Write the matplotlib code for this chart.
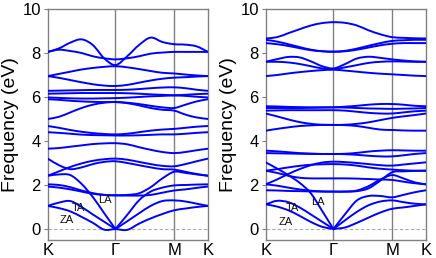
import matplotlib
matplotlib.use("Agg")
import matplotlib.pyplot as plt
import numpy as np
from matplotlib.path import Path
from matplotlib.patches import PathPatch

plt.rcParams["font.family"] = ["Liberation Sans", "DejaVu Sans"]

# k-path K-G-M-K of the hexagonal zone (lengths in 1/a) and sampling steps
seg_len = [4.1888, 3.6276, 2.0944]
seg_steps = [6, 5, 3]
tick_labels = ["K", "Γ", "M", "K"]
mode_names = ["ZA", "TA", "LA"]

# ---- left structure: energies (eV) at the 15 sampled k-points ----
za_left = [1.05, 0.95, 0.8, 0.55, 0.28, -0.03, 0.0, -0.04, 0.24, 0.48, 0.68, 0.85, 0.93, 1.0, 1.05]
ta_left = [1.05, 1.2, 1.27, 1.0, 0.66, 0.33, 0.0, 0.35, 0.71, 1.05, 1.27, 1.3, 1.25, 1.15, 1.05]
la_left = [2.42, 2.48, 2.45, 2.05, 1.45, 0.72, 0.0, 0.64, 1.3, 1.7, 1.88, 1.98, 2.0, 2.02, 2.03]
opt1_left = [2.03, 2.0, 1.9, 1.75, 1.63, 1.55, 1.53, 1.55, 1.62, 1.9, 2.3, 2.6, 2.55, 2.48, 2.42]
opt2_left = [1.93, 1.88, 1.8, 1.7, 1.6, 1.55, 1.53, 1.52, 1.52, 1.55, 1.65, 1.75, 1.8, 1.87, 1.93]
b6_left = [3.2, 2.9, 2.72, 2.8, 2.95, 3.05, 3.08, 3.0, 2.9, 2.8, 2.72, 2.7, 2.6, 2.5, 2.42]
b7_left = [2.42, 2.62, 2.82, 2.98, 3.1, 3.17, 3.2, 3.15, 3.05, 2.95, 2.87, 2.85, 2.95, 3.08, 3.2]
b8_left = [3.65, 3.68, 3.74, 3.8, 3.86, 3.89, 3.9, 3.85, 3.72, 3.6, 3.5, 3.45, 3.5, 3.58, 3.65]
b9_left = [4.4, 4.37, 4.33, 4.29, 4.27, 4.26, 4.25, 4.25, 4.26, 4.28, 4.3, 4.3, 4.33, 4.37, 4.4]
b10_left = [4.68, 4.6, 4.5, 4.42, 4.36, 4.32, 4.3, 4.33, 4.4, 4.47, 4.52, 4.55, 4.6, 4.65, 4.68]
b11_left = [5.0, 5.1, 5.3, 5.5, 5.65, 5.74, 5.77, 5.72, 5.62, 5.5, 5.42, 5.38, 5.2, 5.07, 5.0]
b12_left = [5.9, 5.87, 5.83, 5.8, 5.78, 5.77, 5.77, 5.74, 5.68, 5.6, 5.53, 5.5, 5.65, 5.8, 5.9]
b13_left = [5.98, 5.96, 5.94, 5.93, 5.93, 5.94, 5.95, 5.97, 6.0, 6.03, 6.05, 6.07, 6.05, 6.01, 5.98]
b14_left = [6.15, 6.16, 6.17, 6.18, 6.18, 6.18, 6.18, 6.17, 6.15, 6.12, 6.1, 6.08, 6.1, 6.13, 6.15]
b15_left = [6.28, 6.29, 6.3, 6.31, 6.32, 6.32, 6.32, 6.33, 6.36, 6.4, 6.43, 6.44, 6.4, 6.33, 6.28]
b16_left = [6.95, 6.87, 6.77, 6.67, 6.58, 6.52, 6.5, 6.55, 6.65, 6.75, 6.83, 6.88, 6.9, 6.93, 6.95]
b17_left = [6.95, 7.05, 7.15, 7.25, 7.32, 7.37, 7.4, 7.35, 7.27, 7.18, 7.1, 7.07, 7.02, 6.98, 6.95]
b18_left = [8.05, 8.15, 8.09, 8.0, 7.85, 7.76, 7.71, 7.76, 7.85, 7.97, 8.02, 8.05, 8.05, 8.05, 8.05]
b19_left = [8.05, 8.21, 8.47, 8.62, 8.36, 7.76, 7.45, 7.85, 8.36, 8.7, 8.5, 8.4, 8.38, 8.3, 8.05]

# ---- right structure ----
za_right = [1.12, 1.02, 0.85, 0.6, 0.32, 0.1, 0.0, 0.07, 0.28, 0.52, 0.75, 0.92, 0.98, 1.05, 1.12]
ta_right = [1.12, 1.28, 1.22, 0.98, 0.66, 0.33, 0.0, 0.4, 0.78, 1.08, 1.25, 1.3, 1.22, 1.15, 1.12]
la_right = [3.03, 2.75, 2.45, 2.1, 1.62, 0.82, 0.0, 0.68, 1.3, 1.5, 1.5, 1.44, 1.55, 1.67, 1.76]
opt1_right = [2.03, 1.97, 1.88, 1.8, 1.74, 1.71, 1.7, 1.7, 1.75, 1.95, 2.25, 2.45, 2.3, 2.12, 2.03]
opt2_right = [1.76, 1.75, 1.73, 1.72, 1.71, 1.7, 1.7, 1.7, 1.72, 1.85, 2.2, 2.58, 2.62, 2.64, 2.65]
b6_right = [2.65, 2.55, 2.42, 2.33, 2.3, 2.3, 2.3, 2.3, 2.29, 2.27, 2.25, 2.23, 2.15, 2.08, 2.03]
b7_right = [2.65, 2.72, 2.8, 2.87, 2.92, 2.94, 2.95, 2.93, 2.88, 2.8, 2.74, 2.7, 2.67, 2.65, 2.65]
b8_right = [2.03, 2.25, 2.5, 2.72, 2.9, 3.02, 3.06, 3.04, 3.0, 2.95, 2.9, 2.88, 2.93, 2.98, 3.03]
b9_right = [3.56, 3.53, 3.49, 3.45, 3.43, 3.41, 3.41, 3.42, 3.46, 3.52, 3.56, 3.58, 3.57, 3.56, 3.56]
b10_right = [3.45, 3.44, 3.43, 3.42, 3.41, 3.41, 3.41, 3.4, 3.37, 3.33, 3.3, 3.3, 3.35, 3.41, 3.45]
b11_right = [4.47, 4.55, 4.62, 4.68, 4.71, 4.73, 4.73, 4.72, 4.68, 4.6, 4.52, 4.5, 4.48, 4.47, 4.47]
b12_right = [5.25, 5.12, 4.98, 4.86, 4.78, 4.74, 4.73, 4.74, 4.78, 4.85, 4.95, 5.05, 5.12, 5.18, 5.25]
b13_right = [5.38, 5.39, 5.4, 5.4, 5.4, 5.4, 5.4, 5.38, 5.33, 5.28, 5.25, 5.25, 5.3, 5.35, 5.38]
b14_right = [5.5, 5.5, 5.5, 5.5, 5.51, 5.52, 5.53, 5.52, 5.5, 5.48, 5.47, 5.46, 5.47, 5.48, 5.5]
b15_right = [5.58, 5.57, 5.55, 5.54, 5.53, 5.53, 5.53, 5.56, 5.6, 5.65, 5.68, 5.68, 5.65, 5.6, 5.58]
b16_right = [6.95, 7.0, 7.07, 7.13, 7.18, 7.22, 7.24, 7.2, 7.15, 7.1, 7.06, 7.03, 7.0, 6.97, 6.95]
b17_right = [7.6, 7.6, 7.57, 7.5, 7.4, 7.3, 7.27, 7.35, 7.45, 7.55, 7.6, 7.62, 7.61, 7.6, 7.6]
b18_right = [7.6, 7.72, 7.82, 7.8, 7.62, 7.4, 7.3, 7.5, 7.75, 7.83, 7.78, 7.71, 7.66, 7.62, 7.6]
b19_right = [8.45, 8.4, 8.32, 8.22, 8.13, 8.08, 8.06, 8.08, 8.15, 8.25, 8.35, 8.42, 8.45, 8.45, 8.45]
b20_right = [8.6, 8.52, 8.4, 8.27, 8.15, 8.08, 8.06, 8.1, 8.2, 8.33, 8.45, 8.55, 8.58, 8.6, 8.6]
b21_right = [8.66, 8.72, 8.9, 9.08, 9.25, 9.36, 9.4, 9.37, 9.25, 9.03, 8.85, 8.72, 8.69, 8.67, 8.66]

left_bands = [za_left, ta_left, la_left, opt1_left, opt2_left, b6_left, b7_left,
              b8_left, b9_left, b10_left, b11_left, b12_left, b13_left, b14_left,
              b15_left, b16_left, b17_left, b18_left, b19_left]
right_bands = [za_right, ta_right, la_right, opt1_right, opt2_right, b6_right,
               b7_right, b8_right, b9_right, b10_right, b11_right, b12_right,
               b13_right, b14_right, b15_right, b16_right, b17_right, b18_right,
               b19_right, b20_right, b21_right]

# label anchors (k, E) for the acoustic branches in each panel
left_label_k = [1.16, 1.92, 3.51]
left_label_e = [0.4, 0.94, 1.3]
right_label_k = [1.21, 1.63, 3.25]
right_label_e = [0.33, 0.94, 1.23]

# sampled k-points along the path
k_nodes = np.concatenate([[0.0], np.cumsum(seg_len)])
k_pts = [0.0]
for i, n in enumerate(seg_steps):
    k_pts += list(np.linspace(k_nodes[i], k_nodes[i + 1], n + 1)[1:])
k_pts = np.array(k_pts)
gamma_idx = seg_steps[0]


def band_path(k, e, kinks):
    """Smooth Bezier path through the sampled points (Catmull-Rom tangents)."""
    e = np.asarray(e, dtype=float)
    n = len(k)

    def slope(i, side):
        if i == 0 or (i in kinks and side > 0):
            return (e[i + 1] - e[i]) / (k[i + 1] - k[i])
        if i == n - 1 or (i in kinks and side < 0):
            return (e[i] - e[i - 1]) / (k[i] - k[i - 1])
        return (e[i + 1] - e[i - 1]) / (k[i + 1] - k[i - 1])

    verts = [(k[0], e[0])]
    codes = [Path.MOVETO]
    for i in range(n - 1):
        h = (k[i + 1] - k[i]) / 3.0
        m0 = slope(i, +1)
        m1 = slope(i + 1, -1)
        verts += [(k[i] + h, e[i] + h * m0),
                  (k[i + 1] - h, e[i + 1] - h * m1),
                  (k[i + 1], e[i + 1])]
        codes += [Path.CURVE4] * 3
    return Path(verts, codes)


fig = plt.figure(figsize=(4.36, 2.58), dpi=100)
ax1 = fig.add_axes([0.1094, 0.0698, 0.3677, 0.8953])
ax2 = fig.add_axes([0.6094, 0.0698, 0.3677, 0.8953])

panels = [(ax1, left_bands, left_label_k, left_label_e),
          (ax2, right_bands, right_label_k, right_label_e)]

for ax, bands, lab_k, lab_e in panels:
    ax.axhline(0, color="#aaaaaa", linestyle=(0, (3, 2)), linewidth=0.8, zorder=1)
    for x in k_nodes[1:3]:
        ax.axvline(x, color="#808080", linewidth=1.0, zorder=1)

    for e in bands:
        kinks = {gamma_idx} if abs(e[gamma_idx]) < 1e-9 else set()
        patch = PathPatch(band_path(k_pts, e, kinks), facecolor="none",
                          edgecolor="#0000ff", linewidth=1.4, zorder=3)
        ax.add_patch(patch)

    for name, xk, ye in zip(mode_names, lab_k, lab_e):
        ax.text(xk, ye, name, fontsize=8, ha="center", va="center",
                color="#111111", zorder=4)

    ax.set_xlim(0, k_nodes[-1])
    ax.set_ylim(-0.5, 10)
    ax.set_xticks(k_nodes)
    ax.set_xticklabels(tick_labels)
    ax.set_yticks([0, 2, 4, 6, 8, 10])
    ax.tick_params(axis="both", labelsize=12, color="#808080", width=0.8)
    ax.tick_params(axis="y", length=3, pad=2)
    ax.tick_params(axis="x", length=0, pad=2)
    for s in ax.spines.values():
        s.set_color("#808080")
        s.set_linewidth(1.0)
    ax.set_ylabel("Frequency (eV)", fontsize=14, labelpad=2)

fig.savefig("out.png", dpi=100)
